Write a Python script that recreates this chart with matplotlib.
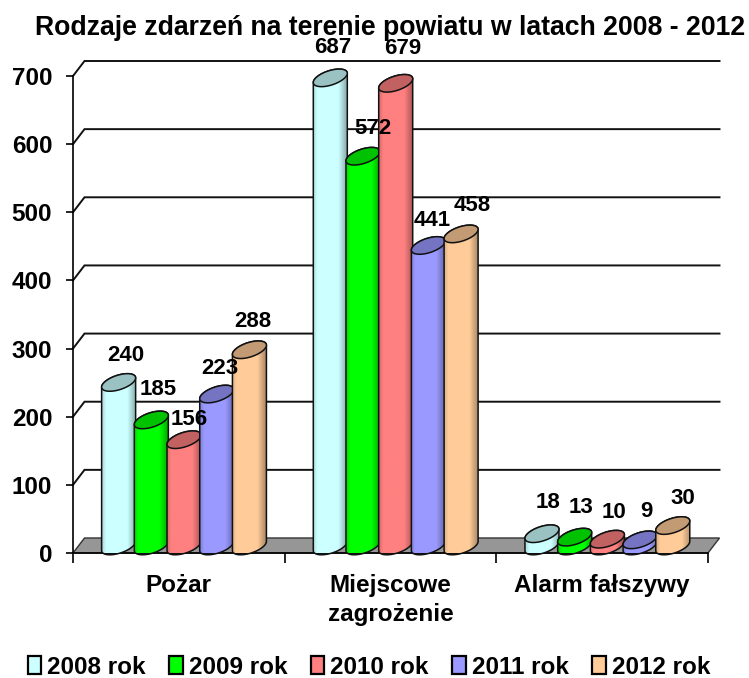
import numpy as np
import matplotlib
matplotlib.use('Agg')
import matplotlib.pyplot as plt
from matplotlib.patches import Patch, Polygon

plt.rcParams['font.family'] = ['Liberation Sans', 'DejaVu Sans']
plt.rcParams['font.weight'] = 'bold'

# Data
categories = ['Pożar', 'Miejscowe\nzagrożenie', 'Alarm fałszywy']
years = ['2008 rok', '2009 rok', '2010 rok', '2011 rok', '2012 rok']
values_2008 = [240, 687, 18]
values_2009 = [185, 572, 13]
values_2010 = [156, 679, 10]
values_2011 = [223, 441, 9]
values_2012 = [288, 458, 30]
yticks = [0, 100, 200, 300, 400, 500, 600, 700]
colors = ['#CCFFFF', '#00FF00', '#FF8080', '#9999FF', '#FFCC99']

series = [values_2008, values_2009, values_2010, values_2011, values_2012]

# Nudges of the value labels (pixels), series by category
label_nudge = [
    [(7, 34), (2, 37), (6, 38)],
    [(7, 37), (10, 35), (6, 37)],
    [(5, 27), (7, 42), (7, 34)],
    [(3, 33), (4, 32), (6, 35)],
    [(3, 35), (11, 35), (10, 34)],
]

W, H = 749, 678
fig = plt.figure(figsize=(W / 100, H / 100), dpi=100, facecolor='white')
ax = fig.add_axes([73 / W, (H - 553) / H, (708 - 73) / W, (553 - 76) / H])
ax.set_xlim(0, 3)
ax.set_ylim(0, 700)

# pixels to data units
PX = 3 / (708 - 73)
PY = 700 / (553 - 76)

# back wall and floor
depth_x = 11.5 * PX
depth_y = 15 * PY
for v in yticks[1:]:
    ax.plot([0, depth_x, 3 + depth_x], [v, v + depth_y, v + depth_y],
            color='#111111', lw=1.4, clip_on=False, zorder=1, solid_joinstyle='miter')
ax.add_patch(Polygon([(0, 0), (depth_x, depth_y), (3 + depth_x, depth_y), (3, 0)],
                     facecolor='#969696', edgecolor='#333333', lw=1.0, clip_on=False, zorder=1))

# one cylinder, drawn from its value
def draw_cylinder(x, value, color, zorder):
    a = 17 * PX
    b = 7.5 * PY
    tilt = 0.27 * PY / PX
    base = 7 * PY
    top = value + base

    t = np.linspace(0, np.pi, 60)
    upper_x = x + a * np.cos(t)
    upper_y = top + b * np.sin(t) + tilt * a * np.cos(t)
    lower_x = x + a * np.cos(t + np.pi)
    lower_y = base + b * np.sin(t + np.pi) + tilt * a * np.cos(t + np.pi)
    outline = np.column_stack([np.r_[upper_x, lower_x], np.r_[upper_y, lower_y]])

    rgb = np.array(matplotlib.colors.to_rgb(color))
    pos = np.linspace(0, 1, 64)
    shade = np.interp(pos, [0, 0.12, 0.75, 1], [0.85, 1, 1, 0.68])
    img = ax.imshow((shade[:, None] * rgb)[None, :, :], aspect='auto', interpolation='bilinear',
                    extent=(x - a, x + a, base - 3 * b, top + 3 * b), zorder=zorder, clip_on=True)
    body = Polygon(outline, closed=True, facecolor='none', edgecolor='#111111', lw=1.1,
                   clip_on=False, zorder=zorder + 0.1)
    ax.add_patch(body)
    img.set_clip_path(body)

    t = np.linspace(0, 2 * np.pi, 120)
    cap = np.column_stack([x + a * np.cos(t), top + b * np.sin(t) + tilt * a * np.cos(t)])
    ax.add_patch(Polygon(cap, closed=True, facecolor=rgb * 0.76, edgecolor='#111111', lw=1.1,
                         clip_on=False, zorder=zorder + 0.2))

z = 3
for c in range(len(categories)):
    for s, vals in enumerate(series):
        x = c + 0.5 + (5.2 + (s - 2) * 32.7) * PX
        draw_cylinder(x, vals[c], colors[s], z)
        z += 1

ax.set_xlim(0, 3)
ax.set_ylim(0, 700)

# value labels stay above all the cylinders
for c in range(len(categories)):
    for s, vals in enumerate(series):
        x = c + 0.5 + (5.2 + (s - 2) * 32.7) * PX
        nx, ny = label_nudge[s][c]
        ax.annotate(str(vals[c]), (x, vals[c]), xytext=(nx * 0.72, ny * 0.72),
                    textcoords='offset points', ha='center', va='center',
                    fontsize=16, fontweight='bold', color='black', zorder=100,
                    annotation_clip=False)

for side in ['top', 'right']:
    ax.spines[side].set_visible(False)
for side in ['left', 'bottom']:
    ax.spines[side].set_linewidth(1.2)
    ax.spines[side].set_zorder(2)

ax.set_yticks(yticks)
ax.set_yticklabels([str(v) for v in yticks], fontsize=17.5, fontweight='bold')
ax.tick_params(axis='y', length=5, width=1.2, pad=10)
ax.set_xticks([0, 1, 2, 3])
ax.set_xticklabels([])
ax.tick_params(axis='x', which='major', length=7, width=1.2)
ax.set_xticks([0.5, 1.5, 2.5], minor=True)
ax.set_xticklabels(categories, minor=True, fontsize=17.5, fontweight='bold', linespacing=1.32)
ax.tick_params(axis='x', which='minor', length=0, pad=15)

fig.text(390 / W, 1 - 28 / H, 'Rodzaje zdarzeń na terenie powiatu w latach 2008 - 2012',
         ha='center', va='center', fontsize=19.2, fontweight='bold')

handles = [Patch(facecolor=col, edgecolor='black', linewidth=1.6) for col in colors]
fig.legend(handles, years, ncols=5, loc='center', bbox_to_anchor=(369 / W, 1 - 667 / H),
           frameon=False, fontsize=17.5, handlelength=0.55, handleheight=0.7,
           handletextpad=0.25, columnspacing=0.97, borderpad=0)

fig.savefig('out.png', dpi=100, facecolor='white')
